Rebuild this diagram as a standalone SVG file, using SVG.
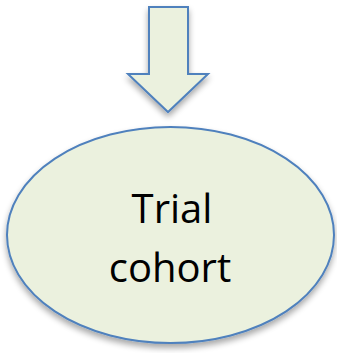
<svg xmlns="http://www.w3.org/2000/svg" width="337" height="353" viewBox="0 0 337 353">
<style>
.shape{fill:#ebf1de;stroke:#4f81bd;stroke-width:2;filter:url(#sh)}
.lbl{font-family:"Open Sans","Liberation Sans",sans-serif;font-size:40px;fill:#000;text-anchor:middle}
</style>
<defs>
<filter id="sh" x="-20%" y="-20%" width="140%" height="150%">
<feGaussianBlur in="SourceAlpha" stdDeviation="3"/>
<feOffset dx="0" dy="4" result="b"/>
<feComponentTransfer><feFuncA type="linear" slope="0.35"/></feComponentTransfer>
<feMerge><feMergeNode/><feMergeNode in="SourceGraphic"/></feMerge>
</filter>
</defs>
<g id="connectors">
<path class="shape" d="M149,7 L188,7 L188,74 L208,74 L168,112 L128,74 L149,74 Z"/>
</g>
<g id="trial-cohort">
<ellipse class="shape" cx="170.5" cy="235" rx="163.5" ry="108"/>
<text class="lbl" x="172" y="223">Trial</text>
<text class="lbl" x="170" y="282">cohort</text>
</g>
</svg>
